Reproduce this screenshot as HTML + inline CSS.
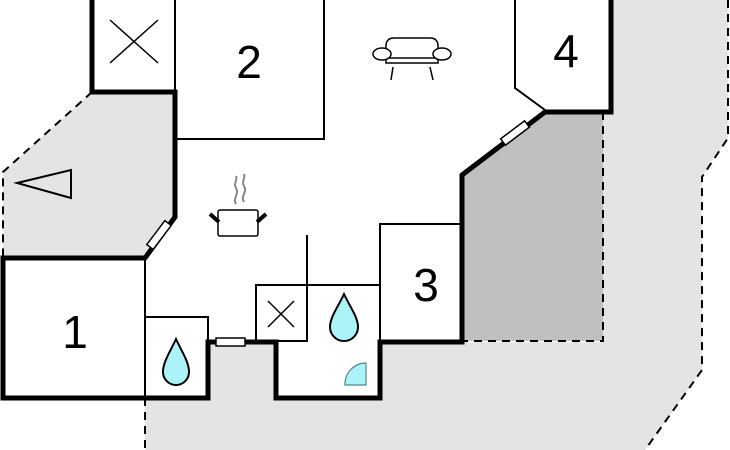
<!DOCTYPE html>
<html><head><style>body{margin:0;background:#fff}svg{display:block}</style></head><body>
<svg width="730" height="450" viewBox="0 0 730 450" xmlns="http://www.w3.org/2000/svg">
<rect width="730" height="450" fill="#fff"/>
<!-- light grey outer -->
<polygon points="611,0 728,0 728,138 702,177 702,370 645,450 145,450 145,398 208,398 208,342 276,342 276,398 380,398 380,342 462,342 603,342 603,112 611,112" fill="#e4e4e4"/>
<polygon points="92,92 175,92 175,217 145,258 3,258 3,172" fill="#e4e4e4"/>
<polygon points="462,175 545,112 603,112 603,341 462,341" fill="#c0c0c0"/>
<g fill="none" stroke="#000" stroke-width="2" stroke-dasharray="8,6">
<polyline points="92,92 3,172 3,258"/>
<polyline points="728,0 728,138 702,177 702,370 645,450"/>
<polyline points="603,112 603,341 462,341"/>
<line x1="145" y1="398" x2="145" y2="450"/>
</g>
<!-- thin walls -->
<g fill="none" stroke="#000" stroke-width="2">
<polyline points="175,0 175,139 324,139 324,0"/>
<line x1="145" y1="258" x2="145" y2="398"/>
<polyline points="145,317 208,317 208,340"/>
<rect x="256" y="285" width="51" height="56"/>
<line x1="307" y1="235" x2="307" y2="341"/>
<line x1="307" y1="285" x2="380" y2="285"/>
<polyline points="380,342 380,224 462,224"/>
<polyline points="515,0 515,88 545,110"/>
<line x1="110" y1="20" x2="158" y2="63" stroke-width="1.5"/>
<line x1="158" y1="20" x2="110" y2="63" stroke-width="1.5"/>
<line x1="268" y1="301" x2="294" y2="327" stroke-width="1.5"/>
<line x1="294" y1="301" x2="268" y2="327" stroke-width="1.5"/>
<polygon points="17,183 71,170 71,198"/>
</g>
<!-- thick walls -->
<g fill="none" stroke="#000" stroke-width="5" stroke-linejoin="miter">
<polyline points="92,0 92,92 175,92 175,217 145,258 3,258 3,398 208,398 208,342 276,342 276,398 380,398 380,342 462,342 462,175 545,112 611,112 611,0"/>
</g>
<!-- doors -->
<g fill="#fff" stroke="#000" stroke-width="1.5">
<rect x="-15" y="-4" width="30" height="8" transform="translate(159,235) rotate(-53)"/>
<rect x="216" y="338" width="29" height="8"/>
<rect x="-15" y="-4" width="30" height="8" transform="translate(515,133) rotate(-37)"/>
</g>
<!-- labels -->
<g font-family="Liberation Sans, sans-serif" font-size="46" text-anchor="middle" fill="#000">
<text x="249" y="78">2</text>
<text x="75" y="348">1</text>
<text x="426" y="301">3</text>
<text x="566" y="67">4</text>
</g>
<!-- drops -->
<g fill="#aaf4f8" stroke="#000" stroke-width="2">
<path d="M176,339 C170,352 163,362 163,372 A13,13 0 0 0 189,372 C189,362 182,352 176,339 Z"/>
<path d="M344,294 C338,307 330,317 330,327 A14,14 0 0 0 358,327 C358,317 350,307 344,294 Z"/>
</g>
<path d="M366,385 L345,385 A21,21 0 0 1 366,363 Z" fill="#aaf4f8" stroke="#4a8a90" stroke-width="1.2"/>
<!-- pot -->
<g stroke="#000" fill="none">
<rect x="218" y="210" width="40" height="26" rx="2" fill="#fff" stroke-width="1.5"/>
<line x1="210" y1="214" x2="219" y2="222" stroke-width="4"/>
<line x1="266" y1="214" x2="257" y2="222" stroke-width="4"/>
<path d="M236,204 c-4,-6 4,-10 0,-16 c-3,-5 2,-8 0,-12" stroke="#888" stroke-width="2"/>
<path d="M244,202 c-4,-6 4,-10 0,-16 c-3,-5 2,-8 0,-12" stroke="#888" stroke-width="2"/>
</g>
<!-- sofa -->
<g stroke="#000" stroke-width="1.5" fill="#fff">
<line x1="393" y1="67" x2="391" y2="80"/>
<line x1="430" y1="67" x2="433" y2="80"/>
<path d="M386,63 L386,46 Q386,38 394,38 L430,38 Q438,38 438,46 L438,63 Z"/>
<line x1="386" y1="58" x2="438" y2="58"/>
<ellipse cx="382" cy="54" rx="9" ry="6"/>
<ellipse cx="442" cy="54" rx="9" ry="6"/>
</g>
</svg>
</body></html>
